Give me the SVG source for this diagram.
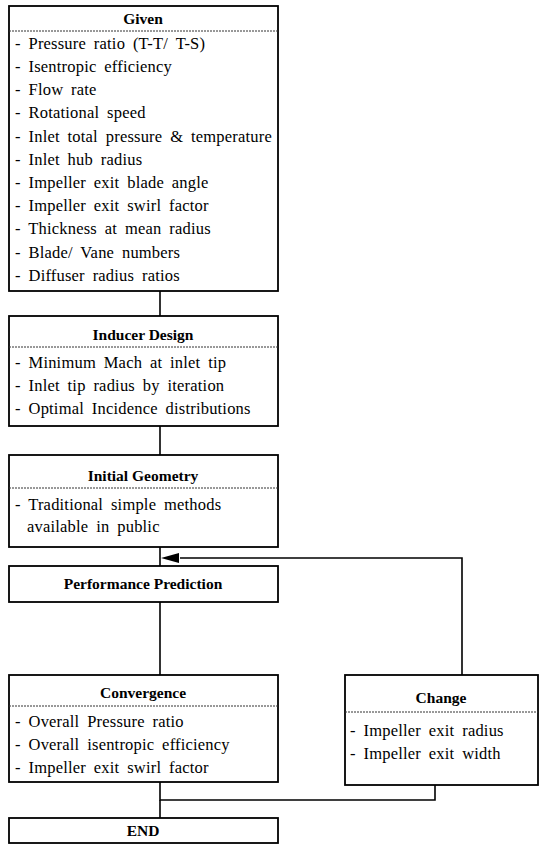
<svg xmlns="http://www.w3.org/2000/svg" width="544" height="844" viewBox="0 0 544 844" font-family="'Liberation Serif', 'DejaVu Serif', serif">
<style>
.box{fill:#fff;stroke:#000;stroke-width:1.8}
.hdr{stroke:#333;stroke-width:1;stroke-dasharray:2 1}
.t{font-family:'Liberation Serif','DejaVu Serif',serif;font-size:16.5px;fill:#000;word-spacing:3.5px;letter-spacing:0.2px}
.h{font-family:'Liberation Serif','DejaVu Serif',serif;font-size:15.5px;font-weight:bold;fill:#000;text-anchor:middle}
.c{fill:none;stroke:#000;stroke-width:1.6}
</style>
<rect width="544" height="844" fill="#fff"/>
<g id="connectors">
<line class="c" x1="160" y1="291" x2="160" y2="316"/>
<line class="c" x1="160" y1="426" x2="160" y2="455"/>
<line class="c" x1="160" y1="547" x2="160" y2="566"/>
<line class="c" x1="160" y1="602" x2="160" y2="675"/>
<polyline class="c" points="462,675 462,558 180,558"/>
<path d="M161,558 L179,553 L179,563 z" fill="#000"/>
<polyline class="c" points="160,782 160,800 435,800 435,785"/>
<line class="c" x1="160" y1="800" x2="160" y2="818"/>
</g>
<g id="given">
<rect class="box" x="9" y="6" width="269" height="285"/>
<line class="hdr" x1="9" y1="31" x2="278" y2="31"/>
<text class="h" x="143" y="24">Given</text>
<text class="t" x="15" y="49">- Pressure ratio (T-T/ T-S)</text>
<text class="t" x="15" y="72">- Isentropic efficiency</text>
<text class="t" x="15" y="95">- Flow rate</text>
<text class="t" x="15" y="118">- Rotational speed</text>
<text class="t" x="15" y="142">- Inlet total pressure &amp; temperature</text>
<text class="t" x="15" y="165">- Inlet hub radius</text>
<text class="t" x="15" y="188">- Impeller exit blade angle</text>
<text class="t" x="15" y="211">- Impeller exit swirl factor</text>
<text class="t" x="15" y="234">- Thickness at mean radius</text>
<text class="t" x="15" y="258">- Blade/ Vane numbers</text>
<text class="t" x="15" y="281">- Diffuser radius ratios</text>
</g>
<g id="inducer">
<rect class="box" x="9" y="316" width="269" height="110"/>
<line class="hdr" x1="9" y1="347" x2="278" y2="347"/>
<text class="h" x="143" y="340">Inducer Design</text>
<text class="t" x="15" y="368">- Minimum Mach at inlet tip</text>
<text class="t" x="15" y="391">- Inlet tip radius by iteration</text>
<text class="t" x="15" y="414">- Optimal Incidence distributions</text>
</g>
<g id="initial">
<rect class="box" x="9" y="455" width="269" height="92"/>
<line class="hdr" x1="9" y1="488" x2="278" y2="488"/>
<text class="h" x="143" y="481">Initial Geometry</text>
<text class="t" x="15" y="510">- Traditional simple methods</text>
<text class="t" x="27" y="532">available in public</text>
</g>
<g id="performance">
<rect class="box" x="9" y="566" width="269" height="36"/>
<text class="h" x="143" y="589">Performance Prediction</text>
</g>
<g id="convergence">
<rect class="box" x="9" y="675" width="269" height="107"/>
<line class="hdr" x1="9" y1="706" x2="278" y2="706"/>
<text class="h" x="143" y="698">Convergence</text>
<text class="t" x="15" y="727">- Overall Pressure ratio</text>
<text class="t" x="15" y="750">- Overall isentropic efficiency</text>
<text class="t" x="15" y="773">- Impeller exit swirl factor</text>
</g>
<g id="change">
<rect class="box" x="345" y="675" width="193" height="110"/>
<line class="hdr" x1="345" y1="712" x2="538" y2="712"/>
<text class="h" x="441" y="703">Change</text>
<text class="t" x="350" y="736">- Impeller exit radius</text>
<text class="t" x="350" y="759">- Impeller exit width</text>
</g>
<g id="end">
<rect class="box" x="9" y="818" width="269" height="25"/>
<text class="h" x="143" y="836">END</text>
</g>
</svg>
